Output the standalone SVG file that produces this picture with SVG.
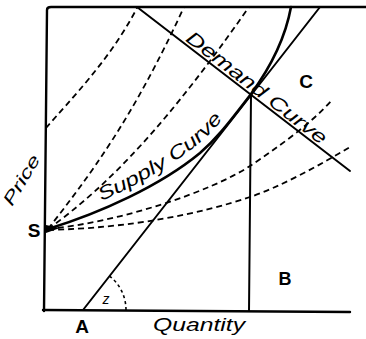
<svg xmlns="http://www.w3.org/2000/svg" width="366" height="339" viewBox="0 0 366 339">
<defs>
<style>
.ax{fill:none;stroke:#000;stroke-width:2.4;stroke-linecap:round;stroke-linejoin:round}
.ln{fill:none;stroke:#000;stroke-width:2;stroke-linecap:round}
.sup{fill:none;stroke:#000;stroke-width:2.6;stroke-linecap:round}
.dash{fill:none;stroke:#000;stroke-width:1.8;stroke-dasharray:6 4}
.arc{fill:none;stroke:#000;stroke-width:1.6;stroke-dasharray:3 3}
.hand{font-family:"Liberation Sans",Arial,sans-serif;font-style:italic;fill:#000}
.let{font-family:"Liberation Sans",Arial,sans-serif;font-weight:bold;fill:#000;text-anchor:middle}
</style>
<path id="supText" d="M44,222 C96,206 157,178 197,145 C212,133 222,121 248,87"/>
</defs>
<rect width="366" height="339" fill="#fff"/>
<g id="axes">
<path class="ax" d="M44,311 L47,10 Q47,7 51,7 L366,7"/>
<path class="ax" d="M43,310 L350,312"/>
</g>
<g id="connectors">
<path class="dash" d="M46,128 C70,100 110,60 137,8"/>
<path class="dash" d="M48,229 C90,175 132,120 184,7"/>
<path class="dash" d="M48,229 C110,185 170,120 249,7"/>
<path class="dash" d="M48,229 C120,222 210,192 250,166 C275,149 310,125 332,100"/>
<path class="dash" d="M48,230 C130,228 200,214 250,197 C280,187 320,165 350,147"/>
<path class="ln" d="M83,310 L320,7"/>
<path class="ln" d="M137,7 L350,171"/>
<path class="ln" d="M251,95 L249,311"/>
<path class="sup" d="M48,229 C100,213 160,186 200,153 C215,140 225,128 251,94 C270,68 285,40 291,7"/>
<path d="M46,225 L60,228 L46,233 Z" fill="#000"/>
<path class="arc" d="M126,310 A43,43 0 0 0 109.5,276"/>
</g>
<g id="labels">
<text class="let" x="34" y="237" font-size="19" font-weight="normal">S</text>
<text class="let" x="82" y="333" font-size="19">A</text>
<text class="let" x="285" y="285" font-size="18">B</text>
<text class="let" x="306" y="88" font-size="19">C</text>
<text class="hand" x="106" y="304" font-size="14" text-anchor="middle">z</text>
<text class="hand" x="153" y="331" font-size="19" textLength="92" lengthAdjust="spacingAndGlyphs">Quantity</text>
<text class="hand" font-size="17" transform="translate(12,207) rotate(-59)" textLength="56" lengthAdjust="spacingAndGlyphs">Price</text>
<text class="hand" font-size="19"><textPath href="#supText" startOffset="61" textLength="148" lengthAdjust="spacingAndGlyphs">Supply Curve</textPath></text>
<text class="hand" font-size="19" transform="translate(183,42.5) rotate(37.7)" x="0" y="-3" textLength="172" lengthAdjust="spacingAndGlyphs">Demand Curve</text>
</g>
</svg>
